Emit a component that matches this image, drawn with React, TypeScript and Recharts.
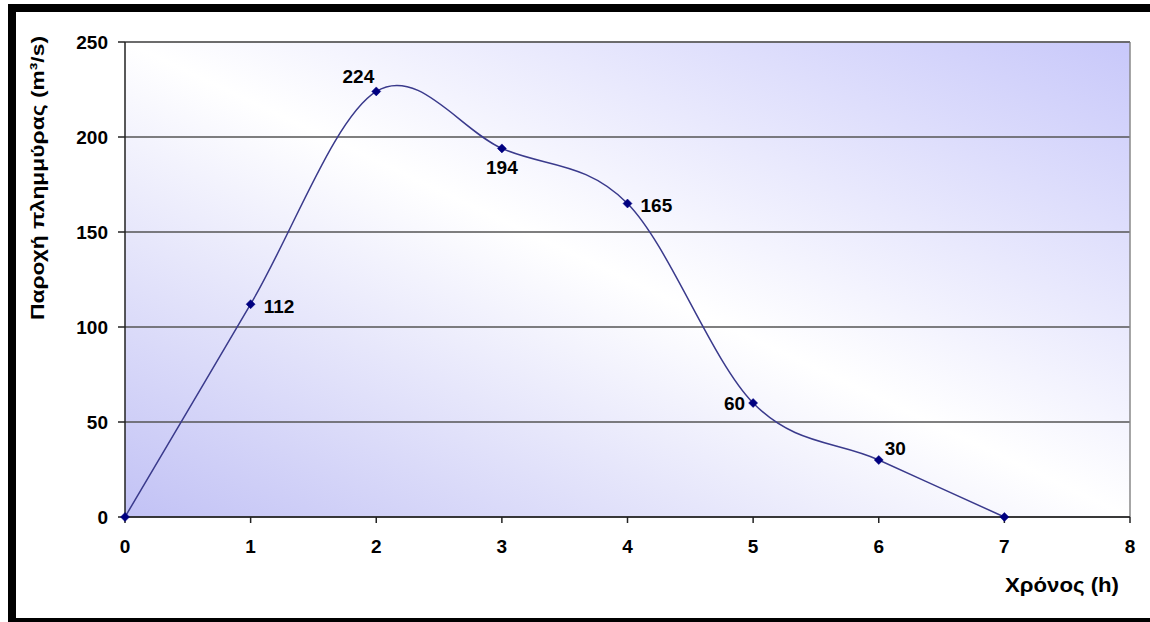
import React from "react";
import {
  LineChart,
  Line,
  XAxis,
  YAxis,
  CartesianGrid,
  LabelList,
  ReferenceLine,
} from "recharts";

// ---- data ----
const timeHours = [0, 1, 2, 3, 4, 5, 6, 7];
const discharge = [0, 112, 224, 194, 165, 60, 30, 0];
const xTicks = [0, 1, 2, 3, 4, 5, 6, 7, 8];
const yTicks = [0, 50, 100, 150, 200, 250];
const yLabel = "Παροχή πλημμύρας (m³/s)";
const xLabel = "Χρόνος (h)";
// label placement per point (style only)
const labelPlacement = ["none", "right", "topLeft", "bottom", "right", "left", "topRight", "none"];

const data = timeHours.map((t, i) => ({ t, q: discharge[i] }));

const FONT = "'Liberation Sans', Arial, sans-serif";

// Excel-like smoothing (uniform Catmull-Rom as cubic Bezier)
function excelSmooth(context: any) {
  let pts: [number, number][] = [];
  return {
    areaStart() {},
    areaEnd() {},
    lineStart() {
      pts = [];
    },
    point(x: number, y: number) {
      pts.push([+x, +y]);
    },
    lineEnd() {
      const n = pts.length;
      if (!n) return;
      context.moveTo(pts[0][0], pts[0][1]);
      for (let i = 0; i < n - 1; i++) {
        const p0 = pts[Math.max(0, i - 1)];
        const p1 = pts[i];
        const p2 = pts[i + 1];
        const p3 = pts[Math.min(n - 1, i + 2)];
        const c1x = p1[0] + (p2[0] - p0[0]) / 6;
        const c1y = p1[1] + (p2[1] - p0[1]) / 6;
        const c2x = p2[0] - (p3[0] - p1[0]) / 6;
        const c2y = p2[1] - (p3[1] - p1[1]) / 6;
        context.bezierCurveTo(c1x, c1y, c2x, c2y, p2[0], p2[1]);
      }
    },
  };
}

const Diamond = (props: any) => {
  const { cx, cy } = props;
  if (cx == null || cy == null) return null;
  const r = 4.5;
  return (
    <polygon
      points={`${cx},${cy - r} ${cx + r},${cy} ${cx},${cy + r} ${cx - r},${cy}`}
      fill="#000080"
      stroke="#000080"
      strokeWidth={0.5}
    />
  );
};

const PointLabel = (props: any) => {
  const { x, y, value, index } = props;
  const place = labelPlacement[index];
  if (!place || place === "none") return null;
  let tx = x;
  let ty = y;
  let anchor: "start" | "middle" | "end" = "start";
  switch (place) {
    case "right":
      tx = x + 13;
      ty = y + 2;
      anchor = "start";
      break;
    case "topLeft":
      tx = x - 2;
      ty = y - 15;
      anchor = "end";
      break;
    case "bottom":
      tx = x;
      ty = y + 19;
      anchor = "middle";
      break;
    case "left":
      tx = x - 8;
      ty = y;
      anchor = "end";
      break;
    case "topRight":
      tx = x + 6;
      ty = y - 12;
      anchor = "start";
      break;
  }
  return (
    <text
      x={tx}
      y={ty}
      textAnchor={anchor}
      dominantBaseline="central"
      fontFamily={FONT}
      fontWeight="bold"
      fontSize={19}
      fill="#000"
    >
      {value}
    </text>
  );
};

const YAxisTitle = () => {
  return (
    <text
      x={37}
      y={178}
      transform="rotate(-90 37 178)"
      textAnchor="middle"
      dominantBaseline="central"
      fontFamily={FONT}
      fontWeight="bold"
      fontSize={19}
      textLength={284}
      lengthAdjust="spacingAndGlyphs"
      fill="#000"
    >
      {yLabel}
    </text>
  );
};

const XAxisTitle = () => (
  <text
    x={1062}
    y={585}
    textAnchor="middle"
    dominantBaseline="central"
    fontFamily={FONT}
    fontWeight="bold"
    fontSize={20}
    textLength={114}
    lengthAdjust="spacingAndGlyphs"
    fill="#000"
  >
    {xLabel}
  </text>
);

export default function App() {
  return (
    <div style={{ position: "absolute", left: 0, top: 0, width: 1150, height: 622, background: "#fff", overflow: "hidden" }}>
      <div
        style={{
          position: "absolute",
          left: 8,
          top: 4,
          width: 1142,
          height: 618,
          boxSizing: "border-box",
          borderTop: "8px solid #000",
          borderLeft: "8px solid #000",
          borderBottom: "4px solid #000",
        }}
      />
      <div style={{ position: "absolute", left: 0, top: 0 }}>
        <LineChart
          width={1150}
          height={622}
          data={data}
          margin={{ top: 42, right: 20, bottom: 65, left: 65 }}
        >
          <defs>
            <linearGradient id="plotBg" x1="0" y1="1" x2="1" y2="0">
              <stop offset="0%" stopColor="#c2c2f5" />
              <stop offset="50%" stopColor="#ffffff" />
              <stop offset="100%" stopColor="#c8c8fa" />
            </linearGradient>
          </defs>
          <CartesianGrid
            vertical={false}
            stroke="#555"
            strokeWidth={1.5}
            fill="url(#plotBg)"
            fillOpacity={1}
          />
          <ReferenceLine x={8} stroke="#888" strokeWidth={1.5} ifOverflow="visible" />
          <ReferenceLine y={250} stroke="#666" strokeWidth={1.5} ifOverflow="visible" />
          <XAxis
            dataKey="t"
            type="number"
            domain={[0, 8]}
            ticks={xTicks}
            interval={0}
            height={40}
            tickSize={6}
            tickMargin={17}
            stroke="#222"
            strokeWidth={1.5}
            tick={{ fontFamily: FONT, fontWeight: "bold", fontSize: 19, fill: "#000" }}
          />
          <YAxis
            type="number"
            domain={[0, 250]}
            ticks={yTicks}
            interval={0}
            width={60}
            tickSize={7}
            tickMargin={10}
            stroke="#222"
            strokeWidth={1.5}
            tick={{ fontFamily: FONT, fontWeight: "bold", fontSize: 19, fill: "#000" }}
          />
          <Line
            dataKey="q"
            type={excelSmooth as any}
            stroke="#3a3a8c"
            strokeWidth={1.5}
            dot={<Diamond />}
            activeDot={false}
            isAnimationActive={false}
          >
            <LabelList dataKey="q" content={<PointLabel />} />
          </Line>
          <YAxisTitle />
          <XAxisTitle />
        </LineChart>
      </div>
    </div>
  );
}
